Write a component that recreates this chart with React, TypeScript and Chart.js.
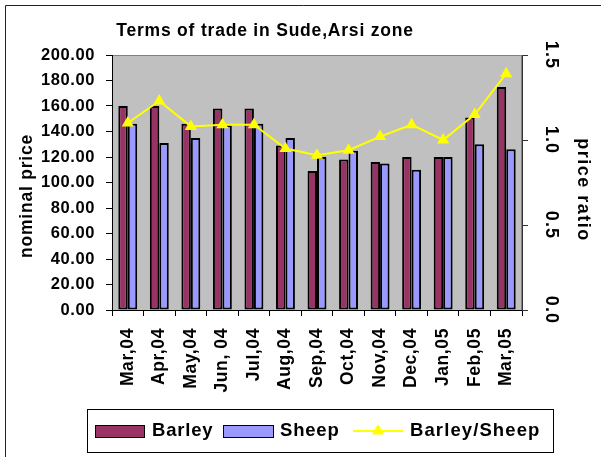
import React, { useEffect, useRef } from "react";
import { Chart, registerables } from "chart.js";

Chart.register(...registerables);

const categories = ["Mar,04", "Apr,04", "May,04", "Jun, 04", "Jul,04", "Aug,04", "Sep,04", "Oct,04", "Nov,04", "Dec,04", "Jan,05", "Feb,05", "Mar,05"];
const barley = [160, 160, 146, 158, 158, 129, 109, 118, 116, 120, 120, 151, 175];
const sheep = [146, 131, 135, 145, 146, 135, 120, 125, 115, 110, 120, 130, 126];
const ratio = [1.10, 1.23, 1.08, 1.09, 1.09, 0.95, 0.91, 0.94, 1.02, 1.09, 1.00, 1.15, 1.39];
const leftTicks = [0, 20, 40, 60, 80, 100, 120, 140, 160, 180, 200];
const rightTicks = [0, 0.5, 1.0, 1.5];

const FONT = "'Liberation Sans', Arial, sans-serif";
const BARLEY_C = "#993366";
const SHEEP_C = "#9999FF";
const LINE_C = "#FFFF00";

function spacedText(ctx: CanvasRenderingContext2D, text: string, x: number, y: number, size: number, spacing: number, align: CanvasTextAlign, rot = 0) {
  ctx.save();
  ctx.font = `bold ${size}px ${FONT}`;
  (ctx as any).letterSpacing = `${spacing}px`;
  ctx.fillStyle = "#000";
  ctx.textAlign = align;
  ctx.textBaseline = "middle";
  ctx.translate(x, y);
  ctx.rotate(rot);
  ctx.fillText(text, 0, 0);
  ctx.restore();
}

const decor = {
  id: "decor",
  beforeDraw(chart: any) {
    const ctx = chart.ctx as CanvasRenderingContext2D;
    const a = chart.chartArea;
    ctx.save();
    ctx.fillStyle = "#fff";
    ctx.fillRect(0, 0, chart.width, chart.height);
    ctx.strokeStyle = "#222";
    ctx.lineWidth = 1;
    ctx.beginPath();
    ctx.moveTo(5.5, chart.height + 2);
    ctx.lineTo(5.5, 5.5);
    ctx.lineTo(chart.width + 2, 5.5);
    ctx.stroke();
    ctx.fillStyle = "#C0C0C0";
    ctx.fillRect(a.left, a.top, a.right - a.left, a.bottom - a.top);
    ctx.strokeStyle = "#808080";
    ctx.beginPath();
    ctx.moveTo(a.left, a.top + 0.5);
    ctx.lineTo(a.right - 0.5, a.top + 0.5);
    ctx.lineTo(a.right - 0.5, a.bottom);
    ctx.stroke();
    ctx.restore();
    (ctx as any).letterSpacing = "0.6px";
  },
  afterDraw(chart: any) {
    const ctx = chart.ctx as CanvasRenderingContext2D;
    (ctx as any).letterSpacing = "0px";
    const y1 = chart.scales.y1;
    spacedText(ctx, "Terms of trade in Sude,Arsi zone", 265, 31, 17.5, 0.8, "center");
    spacedText(ctx, "nominal price", 27, 196, 17.5, 0.8, "center", -Math.PI / 2);
    spacedText(ctx, "price ratio", 583, 190, 18, 1.5, "center", Math.PI / 2);
    rightTicks.forEach((v) => {
      spacedText(ctx, v.toFixed(1), 551, y1.getPixelForValue(v), 18, 1.2, "center", Math.PI / 2);
    });
    ctx.save();
    ctx.strokeStyle = "#000";
    ctx.lineWidth = 1;
    ctx.strokeRect(87.5, 409.5, 466, 43);
    const ly = 431;
    ctx.fillStyle = BARLEY_C;
    ctx.fillRect(95, 425, 49, 12);
    ctx.strokeRect(95.5, 425.5, 49, 12);
    ctx.fillStyle = SHEEP_C;
    ctx.fillRect(223, 425, 50, 12);
    ctx.strokeRect(223.5, 425.5, 50, 12);
    ctx.strokeStyle = LINE_C;
    ctx.lineWidth = 2;
    ctx.beginPath();
    ctx.moveTo(353, ly);
    ctx.lineTo(403, ly);
    ctx.stroke();
    ctx.fillStyle = LINE_C;
    ctx.beginPath();
    const r = 7;
    ctx.moveTo(378, ly - r);
    ctx.lineTo(378 + r * Math.sin((2 * Math.PI) / 3), ly - r * Math.cos((2 * Math.PI) / 3));
    ctx.lineTo(378 + r * Math.sin((4 * Math.PI) / 3), ly - r * Math.cos((4 * Math.PI) / 3));
    ctx.closePath();
    ctx.fill();
    ctx.restore();
    spacedText(ctx, "Barley", 152, ly, 18.5, 0.8, "left");
    spacedText(ctx, "Sheep", 280, ly, 18.5, 0.8, "left");
    spacedText(ctx, "Barley/Sheep", 410, ly, 18.5, 1.1, "left");
  },
};

export default function App() {
  const ref = useRef<HTMLCanvasElement>(null);
  useEffect(() => {
    if (!ref.current) return;
    const chart = new Chart(ref.current, {
      type: "bar",
      data: {
        labels: categories,
        datasets: [
          {
            type: "line",
            label: "Barley/Sheep",
            data: ratio,
            yAxisID: "y1",
            borderColor: LINE_C,
            backgroundColor: LINE_C,
            borderWidth: 2,
            pointStyle: "triangle",
            pointRadius: 7,
            pointBorderWidth: 0,
            pointBackgroundColor: LINE_C,
            order: 0,
          } as any,
          {
            label: "Barley",
            data: barley,
            yAxisID: "y",
            backgroundColor: BARLEY_C,
            borderColor: "#000",
            borderWidth: 2,
            borderSkipped: false,
            order: 1,
          },
          {
            label: "Sheep",
            data: sheep,
            yAxisID: "y",
            backgroundColor: SHEEP_C,
            borderColor: "#000",
            borderWidth: 2,
            borderSkipped: false,
            order: 1,
          },
        ],
      },
      options: {
        animation: false,
        responsive: false,
        devicePixelRatio: 1,
        layout: { padding: { left: 0, right: 0, top: 55, bottom: 47 } },
        datasets: { bar: { categoryPercentage: 0.6, barPercentage: 1.0 } },
        plugins: { legend: { display: false }, title: { display: false }, tooltip: { enabled: false } },
        scales: {
          x: {
            grid: { display: true, drawOnChartArea: false, drawTicks: true, tickLength: 6, color: "#000", offset: true },
            border: { color: "#000", width: 1 },
            ticks: {
              autoSkip: false,
              maxRotation: 90,
              minRotation: 90,
              padding: 12,
              color: "#000",
              font: { family: FONT, size: 17.5, weight: "bold" },
            },
            afterFit: (s: any) => { s.height = 100; },
          },
          y: {
            position: "left",
            min: 0,
            max: 200,
            afterBuildTicks: (s: any) => { s.ticks = leftTicks.map((v) => ({ value: v })); },
            grid: { display: true, drawOnChartArea: false, drawTicks: true, tickLength: 6, color: "#000" },
            border: { color: "#000", width: 1 },
            ticks: {
              padding: 11,
              color: "#000",
              font: { family: FONT, size: 16.5, weight: "bold" },
              callback: (v: any) => Number(v).toFixed(2),
            },
            afterFit: (s: any) => { s.width = 112; },
          },
          y1: {
            position: "right",
            min: 0,
            max: 1.5,
            afterBuildTicks: (s: any) => { s.ticks = rightTicks.map((v) => ({ value: v })); },
            grid: { display: true, drawOnChartArea: false, drawTicks: true, tickLength: 6, color: "#333" },
            border: { color: "#333", width: 1 },
            ticks: { display: false },
            afterFit: (s: any) => { s.width = 79; },
          },
        },
      } as any,
      plugins: [decor],
    });
    return () => chart.destroy();
  }, []);
  return (
    <div style={{ position: "absolute", left: 0, top: 0 }}>
      <canvas ref={ref} width={601} height={457} style={{ display: "block" }} />
    </div>
  );
}
